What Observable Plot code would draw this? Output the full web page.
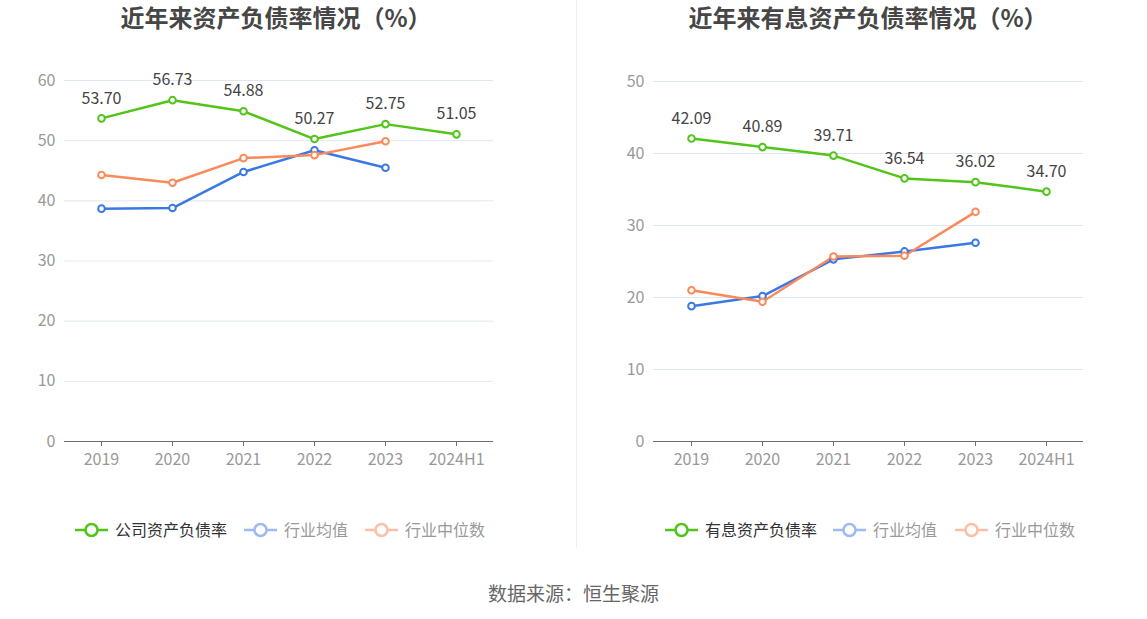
<!DOCTYPE html>
<html><head><meta charset="utf-8">
<script src="https://cdn.jsdelivr.net/npm/d3@7"></script>
<script src="https://cdn.jsdelivr.net/npm/@observablehq/plot@0.6"></script>
<style>
body{margin:0;background:#fff;font-family:"Noto Sans CJK SC","Noto Sans",sans-serif;}
#wrap{position:relative;width:1147px;height:619px;overflow:hidden;background:#fff;}
.title{position:absolute;top:1px;line-height:32px;font-size:24px;font-weight:bold;color:#464646;text-align:center;white-space:nowrap;transform:translateX(-50%);}
.chart{position:absolute;top:0;}
.divider{position:absolute;left:576px;top:0;width:1px;height:548px;background:#eeeeee;}
.legend{position:absolute;top:518px;height:24px;}
.source{position:absolute;top:579px;left:0;width:1147px;text-align:center;font-size:19px;color:#666;}
</style></head>
<body><div id="wrap"></div>
<script>
const years = ["2019","2020","2021","2022","2023","2024H1"];
const debtRatio = [53.70,56.73,54.88,50.27,52.75,51.05];
const debtAvg = [38.7,38.8,44.8,48.4,45.5,null];
const debtMedian = [44.3,43.0,47.1,47.6,49.9,null];
const intDebtRatio = [42.09,40.89,39.71,36.54,36.02,34.70];
const intAvg = [18.8,20.2,25.3,26.4,27.6,null];
const intMedian = [21.0,19.4,25.7,25.8,31.9,null];
const titles = ["近年来资产负债率情况（%）","近年来有息资产负债率情况（%）"];
const legendNames = [["公司资产负债率","行业均值","行业中位数"],["有息资产负债率","行业均值","行业中位数"]];
const yTicksLeft = [0,10,20,30,40,50,60];
const yTicksRight = [0,10,20,30,40,50];
const source = "数据来源：恒生聚源";

const GREEN="#52c41a", BLUE="#3a78e6", ORANGE="#fa8a5a";
const FONT='"Noto Sans CJK SC","Noto Sans",sans-serif';
const wrap=document.getElementById("wrap");

function rows(vals){return years.map((y,i)=>({x:y,v:vals[i]})).filter(d=>d.v!=null);}

function makeChart(company, avg, median, ticks, width, mL, mR, mT){
  const c=rows(company), a=rows(avg), m=rows(median);
  const line=(d,color)=>Plot.line(d,{x:"x",y:"v",stroke:color,strokeWidth:2.5});
  const dot=(d,color)=>Plot.dot(d,{x:"x",y:"v",r:3.3,stroke:color,strokeWidth:2,fill:"#fff"});
  return Plot.plot({
    width, height:480, marginLeft:mL, marginRight:mR, marginTop:mT, marginBottom:39,
    style:{fontFamily:FONT,fontSize:"16px",background:"transparent",overflow:"visible"},
    x:{type:"point",domain:years,padding:0.5,label:null},
    y:{domain:[0,ticks[ticks.length-1]],label:null},
    marks:[
      Plot.gridY(ticks.filter(t=>t>0),{stroke:"#E0E6F1",strokeOpacity:1}),
      Plot.axisY(ticks,{tickSize:0,tickPadding:9,fontSize:16,fill:"#999",label:null}),
      Plot.axisX({tickSize:5,tickPadding:7,stroke:"#6E7079",fill:"#999",fontSize:16,label:null}),
      Plot.ruleY([0],{stroke:"#6E7079",strokeWidth:1.2}),
      line(a,BLUE), line(m,ORANGE), line(c,GREEN),
      dot(a,BLUE), dot(m,ORANGE), dot(c,GREEN),
      Plot.text(c,{x:"x",y:"v",text:d=>d.v.toFixed(2),dy:-20,fill:"#444",fontSize:16})
    ]
  });
}

function legend(names, left, positions){
  const ns="http://www.w3.org/2000/svg";
  const svg=document.createElementNS(ns,"svg");
  svg.setAttribute("width",500);svg.setAttribute("height",24);
  svg.setAttribute("class","legend");svg.style.left=left+"px";
  const cols=[[GREEN,"#333"],["#9dbaf3","#999"],["#fcc0a6","#999"]];
  names.forEach((n,i)=>{
    const x=positions[i];
    const l=document.createElementNS(ns,"line");
    l.setAttribute("x1",x);l.setAttribute("x2",x+33);l.setAttribute("y1",12);l.setAttribute("y2",12);
    l.setAttribute("stroke",cols[i][0]);l.setAttribute("stroke-width",2.5);svg.appendChild(l);
    const c=document.createElementNS(ns,"circle");
    c.setAttribute("cx",x+16.5);c.setAttribute("cy",12);c.setAttribute("r",6);
    c.setAttribute("fill","#fff");c.setAttribute("stroke",cols[i][0]);c.setAttribute("stroke-width",2.5);svg.appendChild(c);
    const t=document.createElementNS(ns,"text");
    t.setAttribute("x",x+40);t.setAttribute("y",17.5);t.setAttribute("font-size",16);
    t.setAttribute("font-family",FONT);t.setAttribute("fill",cols[i][1]);t.textContent=n;svg.appendChild(t);
  });
  wrap.appendChild(svg);
}

const left=makeChart(debtRatio,debtAvg,debtMedian,yTicksLeft,573,64,80,80);
left.classList.add("chart");left.style.left="0px";wrap.appendChild(left);
const right=makeChart(intDebtRatio,intAvg,intMedian,yTicksRight,571,77,64,81);
right.classList.add("chart");right.style.left="576px";wrap.appendChild(right);

const div=document.createElement("div");div.className="divider";wrap.appendChild(div);
[[titles[0],276],[titles[1],868]].forEach(([t,x])=>{
  const d=document.createElement("div");d.className="title";d.style.left=x+"px";d.textContent=t;wrap.appendChild(d);
});
legend(legendNames[0],0,[75,244,365]);
legend(legendNames[1],590,[75,243,365]);
const s=document.createElement("div");s.className="source";s.textContent=source;wrap.appendChild(s);
</script></body></html>
